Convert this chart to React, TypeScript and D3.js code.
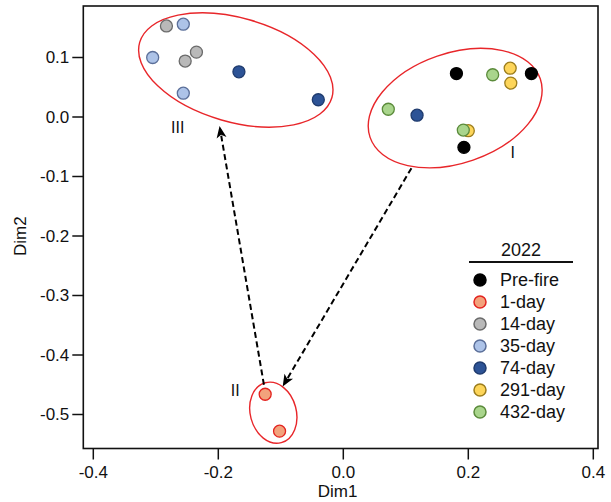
import React from "react";
import * as d3 from "d3";

// ---- data ----
const groups = ["Pre-fire", "1-day", "14-day", "35-day", "74-day", "291-day", "432-day"];
const fills = ["#000000", "#f2a27c", "#b9b9b9", "#adc3e8", "#2d5396", "#fdd55a", "#a9d58c"];
const strokes = ["#000000", "#e3231f", "#6b6b6b", "#5b6f99", "#1f3b6e", "#9c7d1c", "#5b8b3b"];

const prefireX = [0.181, 0.301, 0.193];
const prefireY = [0.073, 0.073, -0.051];
const day1X = [-0.125, -0.102];
const day1Y = [-0.466, -0.528];
const day14X = [-0.283, -0.235, -0.253];
const day14Y = [0.153, 0.109, 0.094];
const day35X = [-0.256, -0.305, -0.256];
const day35Y = [0.156, 0.1, 0.04];
const day74X = [-0.167, -0.04, 0.118];
const day74Y = [0.076, 0.029, 0.003];
const day291X = [0.267, 0.268, 0.2];
const day291Y = [0.082, 0.057, -0.023];
const day432X = [0.239, 0.072, 0.192];
const day432Y = [0.071, 0.013, -0.022];

const seriesX = [prefireX, day1X, day14X, day35X, day74X, day291X, day432X];
const seriesY = [prefireY, day1Y, day14Y, day35Y, day74Y, day291Y, day432Y];

const xTicks = [-0.4, -0.2, 0.0, 0.2, 0.4];
const yTicks = [0.1, 0.0, -0.1, -0.2, -0.3, -0.4, -0.5];

const clusterNames = ["I", "II", "III"];
const clusterCX = [0.179, -0.112, -0.172];
const clusterCY = [0.015, -0.497, 0.079];
const clusterLabelX = [0.271, -0.173, -0.265];
const clusterLabelY = [-0.059, -0.459, -0.017];

const arrowFromX = [0.109, -0.127];
const arrowFromY = [-0.086, -0.45];
const arrowToX = [-0.097, -0.198];
const arrowToY = [-0.453, -0.015];

const legendTitle = "2022";

// ---- layout (styles) ----
const W = 611;
const H = 502;
const frame = { left: 83.3, right: 598, top: 6, bottom: 448.5 };
const ellipseShape = [
  { rx: 90, ry: 55, rot: -19 },
  { rx: 31, ry: 23, rot: 75 },
  { rx: 100, ry: 52, rot: 16 },
];
const FONT = "Liberation Sans, Arial, sans-serif";

export default function App() {
  const x = d3.scaleLinear().domain([-0.4, 0.4]).range([93.3, 593.3]);
  const y = d3.scaleLinear().domain([0, -0.5]).range([117, 414.5]);

  const arrows = arrowFromX.map((_, i) => {
    const x1 = x(arrowFromX[i]);
    const y1 = y(arrowFromY[i]);
    const x2 = x(arrowToX[i]);
    const y2 = y(arrowToY[i]);
    const len = Math.hypot(x2 - x1, y2 - y1);
    const ux = (x2 - x1) / len;
    const uy = (y2 - y1) / len;
    const head = 12;
    return { x1, y1, x2, y2, ex: x2 - ux * (head - 2), ey: y2 - uy * (head - 2), ux, uy, head };
  });

  const legendX = 480;
  const legendY0 = 280;
  const legendStep = 22;

  return (
    <svg
      width={W}
      height={H}
      style={{ position: "absolute", left: 0, top: 0, background: "#fff" }}
      fontFamily={FONT}
    >
      <rect x={0} y={0} width={W} height={H} fill="#fff" />
      {/* ellipses */}
      {clusterCX.map((cx, i) => (
        <ellipse
          key={"el" + i}
          cx={0}
          cy={0}
          rx={ellipseShape[i].rx}
          ry={ellipseShape[i].ry}
          transform={`translate(${x(cx)},${y(clusterCY[i])}) rotate(${ellipseShape[i].rot})`}
          fill="none"
          stroke="#e8262a"
          strokeWidth={1.4}
        />
      ))}
      {/* arrows */}
      {arrows.map((a, i) => {
        const px = -a.uy;
        const py = a.ux;
        const bx = a.x2 - a.ux * a.head;
        const by = a.y2 - a.uy * a.head;
        const hw = 5;
        return (
          <g key={"ar" + i}>
            <line
              x1={a.x1}
              y1={a.y1}
              x2={a.ex}
              y2={a.ey}
              stroke="#000"
              strokeWidth={2}
              strokeDasharray="6,3.5"
            />
            <path
              d={`M${a.x2},${a.y2} L${bx + px * hw},${by + py * hw} L${bx + a.ux * 3},${by + a.uy * 3} L${bx - px * hw},${by - py * hw} Z`}
              fill="#000"
            />
          </g>
        );
      })}
      {/* cluster labels */}
      {clusterNames.map((n, i) => (
        <text
          key={"cl" + i}
          x={x(clusterLabelX[i])}
          y={y(clusterLabelY[i])}
          textAnchor="middle"
          dominantBaseline="central"
          fontSize={16}
          fill="#111"
        >
          {n}
        </text>
      ))}
      {/* points */}
      {seriesX.map((xs, s) =>
        xs.map((xv, j) => (
          <circle
            key={`p${s}-${j}`}
            cx={x(xv)}
            cy={y(seriesY[s][j])}
            r={6}
            fill={fills[s]}
            stroke={strokes[s]}
            strokeWidth={1.3}
          />
        ))
      )}
      {/* frame */}
      <rect
        x={frame.left}
        y={frame.top}
        width={frame.right - frame.left}
        height={frame.bottom - frame.top}
        fill="none"
        stroke="#111"
        strokeWidth={1.6}
      />
      {/* x ticks */}
      {xTicks.map((t) => (
        <g key={"xt" + t}>
          <line x1={x(t)} x2={x(t)} y1={frame.bottom} y2={frame.bottom + 11} stroke="#111" strokeWidth={1.5} />
          <text x={x(t)} y={frame.bottom + 29} textAnchor="middle" fontSize={17} fill="#111">
            {d3.format(".1f")(t).replace("−", "-")}
          </text>
        </g>
      ))}
      {/* y ticks */}
      {yTicks.map((t) => (
        <g key={"yt" + t}>
          <line x1={frame.left - 11} x2={frame.left} y1={y(t)} y2={y(t)} stroke="#111" strokeWidth={1.5} />
          <text x={frame.left - 14} y={y(t)} textAnchor="end" dominantBaseline="central" fontSize={17} fill="#111">
            {d3.format(".1f")(t).replace("−", "-")}
          </text>
        </g>
      ))}
      {/* axis titles */}
      <text x={(frame.left + frame.right) / 2 - 3} y={497} textAnchor="middle" fontSize={17} fill="#111">
        Dim1
      </text>
      <text
        transform={`translate(26,${(frame.top + frame.bottom) / 2 + 9}) rotate(-90)`}
        textAnchor="middle"
        fontSize={17}
        fill="#111"
      >
        Dim2
      </text>
      {/* legend */}
      <text x={521} y={256} textAnchor="middle" fontSize={18} fill="#111">
        {legendTitle}
      </text>
      <line x1={469} x2={573} y1={262} y2={262} stroke="#111" strokeWidth={2} />
      {groups.map((g, i) => (
        <g key={"lg" + i}>
          <circle
            cx={legendX}
            cy={legendY0 + i * legendStep}
            r={6}
            fill={fills[i]}
            stroke={strokes[i]}
            strokeWidth={1.5}
          />
          <text
            x={500}
            y={legendY0 + i * legendStep}
            dominantBaseline="central"
            fontSize={18}
            fill="#111"
          >
            {g}
          </text>
        </g>
      ))}
    </svg>
  );
}
